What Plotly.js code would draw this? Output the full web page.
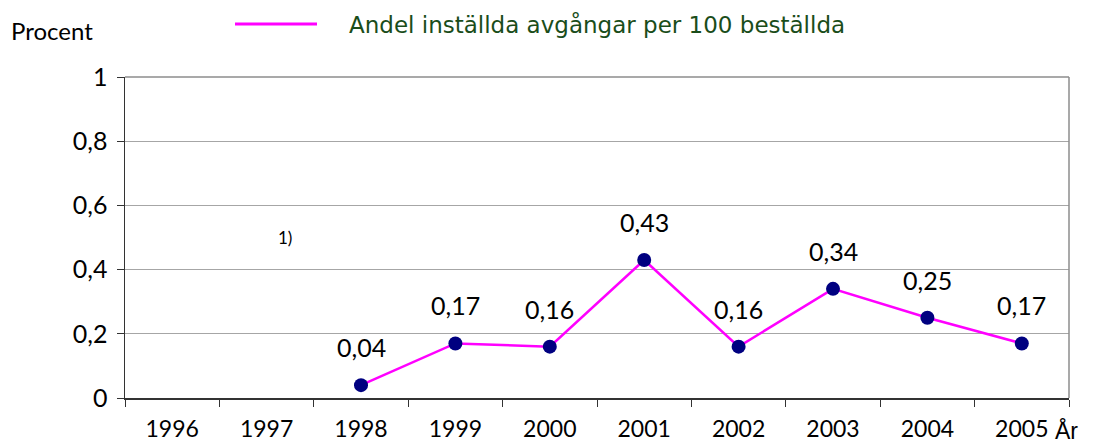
<!DOCTYPE html>
<html>
<head>
<meta charset="utf-8">
<script src="https://cdn.plot.ly/plotly-3.0.1.min.js"></script>
<style>
  body { margin: 0; background: #fff; }
  #chart { width: 1096px; height: 444px; }
</style>
</head>
<body>
<div id="chart"></div>
<script>
// Years and share of cancelled departures (percent)
const years = ['1996', '1997', '1998', '1999', '2000', '2001', '2002', '2003', '2004', '2005'];
const cancelled = [null, null, 0.04, 0.17, 0.16, 0.43, 0.16, 0.34, 0.25, 0.17];
const seriesName = 'Andel inställda avgångar per 100 beställda';

const FONT = 'Lato, "Open Sans", "DejaVu Sans", sans-serif';

const trace = {
  x: years,
  y: cancelled,
  type: 'scatter',
  mode: 'lines+markers',
  name: seriesName,
  connectgaps: false,
  line: { color: '#ff00ff', width: 2.5 },
  marker: { color: '#000080', size: 14 },
  cliponaxis: false,
  showlegend: false
};

// value labels above each point (category index as x)
const labels = [];
years.forEach((yr, i) => {
  if (cancelled[i] === null) return;
  labels.push({
    x: i, y: cancelled[i], xref: 'x', yref: 'y',
    text: cancelled[i].toFixed(2).replace('.', ','),
    showarrow: false, yshift: 38,
    font: { family: FONT, size: 25, color: '#000' }
  });
});

const layout = {
  width: 1096,
  height: 444,
  margin: { l: 125, r: 27, t: 77, b: 46 },
  paper_bgcolor: '#fff',
  plot_bgcolor: '#fff',
  separators: ', ',
  font: { family: FONT, size: 25, color: '#000' },
  xaxis: {
    type: 'category',
    range: [-0.5, 9.5],
    tickson: 'boundaries',
    ticks: 'outside',
    ticklen: 7,
    tickcolor: '#333',
    ticklabelstandoff: 10,
    showline: true,
    linecolor: '#333',
    linewidth: 1.5,
    showgrid: false,
    zeroline: false,
    tickfont: { family: FONT, size: 23, color: '#000' }
  },
  yaxis: {
    range: [0, 1],
    tickvals: [0, 0.2, 0.4, 0.6, 0.8, 1],
    ticktext: ['0', '0,2', '0,4', '0,6', '0,8', '1'],
    ticks: 'outside',
    ticklen: 7,
    tickcolor: '#333',
    ticklabelstandoff: 4,
    showline: true,
    linecolor: '#333',
    linewidth: 1.5,
    showgrid: true,
    gridcolor: '#a6a6a6',
    gridwidth: 1,
    zeroline: false,
    tickfont: { family: FONT, size: 25, color: '#000' }
  },
  shapes: [
    // plot area border (top / right)
    { type: 'line', xref: 'paper', yref: 'paper', x0: 0, x1: 1, y0: 1, y1: 1,
      line: { color: '#8c8c8c', width: 1.5 } },
    { type: 'line', xref: 'paper', yref: 'paper', x0: 1, x1: 1, y0: 0, y1: 1,
      line: { color: '#8c8c8c', width: 1.5 } },
    // legend line
    { type: 'line', xref: 'paper', yref: 'paper',
      x0: (235 - 125) / 944, x1: (317 - 125) / 944,
      y0: (444 - 46 - 24) / 321, y1: (444 - 46 - 24) / 321,
      line: { color: '#ff00ff', width: 3 } }
  ],
  annotations: labels.concat([
    { xref: 'paper', yref: 'paper', x: (347 - 125) / 944, y: (444 - 46 - 25) / 321,
      xanchor: 'left', yanchor: 'middle', showarrow: false,
      text: seriesName, font: { family: '"DejaVu Sans", Verdana, sans-serif', size: 23, color: '#1a4d1a' } },
    { xref: 'paper', yref: 'paper', x: (9 - 125) / 944, y: (444 - 46 - 30) / 321,
      xanchor: 'left', yanchor: 'middle', showarrow: false,
      text: 'Procent', font: { family: FONT, size: 24, color: '#000' } },
    { xref: 'paper', yref: 'paper', x: (1053 - 125) / 944, y: (444 - 46 - 431) / 321,
      xanchor: 'left', yanchor: 'middle', showarrow: false,
      text: 'År', font: { family: '"Liberation Sans", Arial, sans-serif', size: 23, color: '#000' } },
    { xref: 'paper', yref: 'y', x: (285 - 125) / 944, y: 0.5,
      xanchor: 'center', yanchor: 'middle', showarrow: false,
      text: '1)', font: { family: FONT, size: 17, color: '#000' } }
  ])
};

Plotly.newPlot('chart', [trace], layout, { displayModeBar: false, staticPlot: true });
</script>
</body>
</html>
